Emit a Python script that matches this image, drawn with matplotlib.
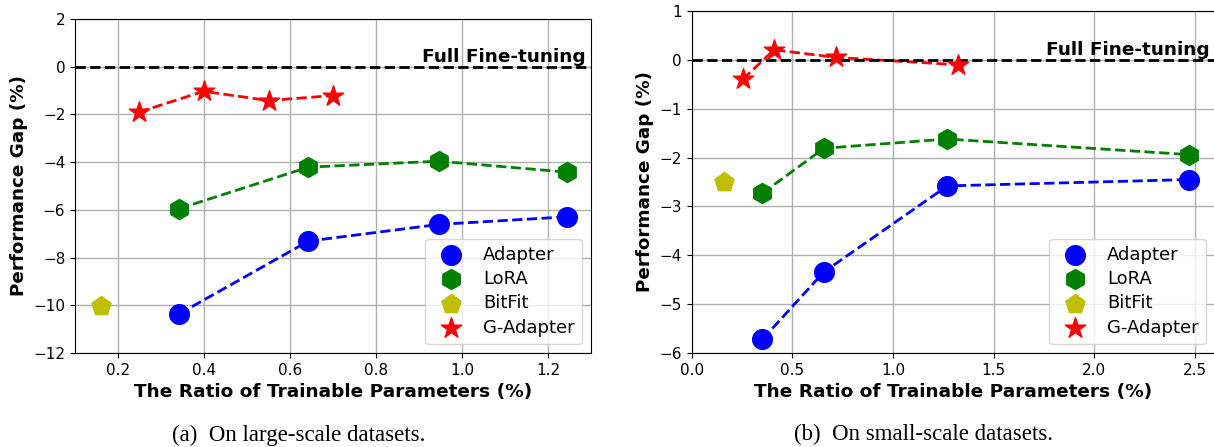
import matplotlib
matplotlib.use("Agg")
import matplotlib.pyplot as plt
import matplotlib.transforms as mtransforms

# (a) large-scale datasets
large_adapter_x = [0.342, 0.643, 0.946, 1.245]
large_adapter_y = [-10.36, -7.31, -6.61, -6.29]
large_lora_x = [0.342, 0.643, 0.946, 1.245]
large_lora_y = [-5.95, -4.21, -3.96, -4.42]
large_bitfit_x = [0.16]
large_bitfit_y = [-10.01]
large_gadapter_x = [0.248, 0.399, 0.55, 0.699]
large_gadapter_y = [-1.91, -1.03, -1.42, -1.21]

# (b) small-scale datasets
small_adapter_x = [0.351, 0.657, 1.27, 2.472]
small_adapter_y = [-5.72, -4.34, -2.58, -2.45]
small_lora_x = [0.351, 0.657, 1.27, 2.472]
small_lora_y = [-2.73, -1.81, -1.62, -1.94]
small_bitfit_x = [0.159]
small_bitfit_y = [-2.51]
small_gadapter_x = [0.253, 0.409, 0.715, 1.325]
small_gadapter_y = [-0.40, 0.205, 0.05, -0.10]

large_xticks = [0.2, 0.4, 0.6, 0.8, 1.0, 1.2]
large_yticks = [-12, -10, -8, -6, -4, -2, 0, 2]
small_xticks = [0.0, 0.5, 1.0, 1.5, 2.0, 2.5]
small_yticks = [-6, -5, -4, -3, -2, -1, 0, 1]

captions = ["(a)  On large-scale datasets.", "(b)  On small-scale datasets."]


def draw(ax, series, xlim, ylim, xticks, yticks):
    styles = [
        ("Adapter", "b", "o", 200),
        ("LoRA", "g", "h", 210),
        ("BitFit", "y", "p", 210),
        ("G-Adapter", "r", "*", 240),
    ]
    for (x, y), (name, c, m, s) in zip(series, styles):
        if len(x) > 1:
            ax.plot(x, y, "--", color=c, linewidth=2, zorder=2)
        ax.scatter(x, y, marker=m, color=c, s=s, label=name, zorder=3)

    ax.axhline(0, color="k", linestyle="--", linewidth=2, zorder=2)
    trans = mtransforms.blended_transform_factory(ax.transAxes, ax.transData)
    ax.text(0.99, 0.02, "Full Fine-tuning", transform=trans, ha="right",
            va="bottom", fontsize=13.3, fontweight="bold")

    ax.set_xlim(*xlim)
    ax.set_ylim(*ylim)
    ax.set_xticks(xticks)
    ax.set_yticks(yticks)
    ax.tick_params(labelsize=11)
    ax.grid(True, color="#b0b0b0", linewidth=1, zorder=0)
    ax.set_axisbelow(True)
    ax.set_xlabel("The Ratio of Trainable Parameters (%)", fontsize=13.3,
                  fontweight="bold")
    ax.set_ylabel("Performance Gap (%)", fontsize=13.2, fontweight="bold")
    ax.legend(loc="lower right", fontsize=13, labelspacing=0.35,
              scatterpoints=1)


fig = plt.figure(figsize=(12.14, 4.47), dpi=100)
ax1 = fig.add_axes([0.0618, 0.2103, 0.4250, 0.7472])
ax2 = fig.add_axes([0.5698, 0.2103, 0.4310, 0.7651])

draw(ax1,
     [(large_adapter_x, large_adapter_y), (large_lora_x, large_lora_y),
      (large_bitfit_x, large_bitfit_y), (large_gadapter_x, large_gadapter_y)],
     (0.1, 1.3), (-12, 2), large_xticks, large_yticks)
draw(ax2,
     [(small_adapter_x, small_adapter_y), (small_lora_x, small_lora_y),
      (small_bitfit_x, small_bitfit_y), (small_gadapter_x, small_gadapter_y)],
     (0.0, 2.6), (-6, 1), small_xticks, small_yticks)

fig.text(299 / 1214, 0.027, captions[0], ha="center", va="center",
         fontsize=16.5, family="Liberation Serif")
fig.text(924 / 1214, 0.027, captions[1], ha="center", va="center",
         fontsize=16.5, family="Liberation Serif")

fig.savefig("out.png", dpi=100)
